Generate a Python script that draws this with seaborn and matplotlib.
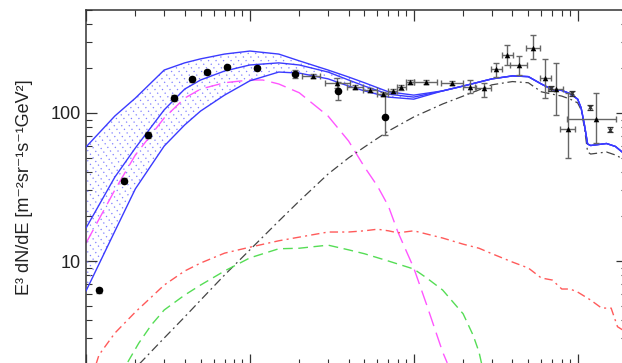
import numpy as np
import matplotlib
matplotlib.use("Agg")
import matplotlib.pyplot as plt
from matplotlib.ticker import LogLocator, NullFormatter, FixedLocator, FixedFormatter
import seaborn as sns

# Energies in GeV, fluxes as E^3 dN/dE

# blue band (upper / central / lower model curves), low-energy part
band_E = [1, 1.5, 2, 3, 4, 5, 7, 10, 15, 20, 30, 40, 50, 70, 100]
band_hi = [58.9, 95.4, 126, 195, 218, 232, 250, 262, 250, 225, 195, 175, 160, 139, 132]
band_mid = [16.7, 36.9, 58.0, 105, 145, 167, 192, 211, 218, 211, 189, 167, 152, 134, 128]
band_lo = [6.27, 15.9, 30.7, 59.8, 83.0, 103, 132, 165, 189, 186, 170, 152, 141, 128, 124]

# high-energy part where the three blue curves coincide
tail_E = [150, 200, 300, 400, 500, 600, 700, 800, 900, 1000, 1050, 1100, 1150, 1200, 1500, 1700, 2000]
tail_F = [141, 152, 170, 178, 176, 157, 144, 142, 135, 124, 108, 83.0, 61.7, 60.3, 62.2, 59.4, 51.2]

# magenta long dashed component
mag_E = [1, 1.5, 2, 3, 4, 5, 7, 10, 12, 15, 20, 30, 40, 50, 60, 70, 80, 100, 120, 150, 160]
mag_F = [13.2, 30.2, 52.0, 92.5, 126, 145, 160, 167, 167, 157, 137, 95.3, 64.7, 43.2, 32.1, 23.5, 15.7, 8.97, 5.04, 2.43, 2.05]

# black dash-dot component
blk_E = [2, 3, 4, 5, 7, 10, 15, 20, 30, 40, 50, 70, 100, 150, 200, 300, 400, 500,
         600, 700, 800, 900, 1000, 1050, 1100, 1150, 1200, 1500, 1700, 2000]
blk_F = [1.89, 3.02, 4.19, 5.44, 8.04, 11.9, 18.6, 25.4, 38.7, 49.7, 58.9, 75.5, 94.0, 115, 130, 155, 163, 160,
         139, 134, 130, 124, 117, 105, 79.2, 54.5, 52.8, 54.5, 52.0, 47.4]

# red dash-dot component
red_E = [1.15, 1.2, 1.5, 2, 3, 4, 5, 7, 10, 15, 20, 30, 40, 50, 60, 70, 80, 100, 150, 200, 250, 300,
         400, 500, 600, 700, 800, 900, 1000, 1200, 1400, 1600, 1750, 1900]
red_F = [2.0, 2.32, 3.26, 4.52, 6.88, 8.56, 9.69, 11.3, 12.4, 13.7, 14.5, 15.7, 15.7, 16.0, 16.4, 16.0, 15.5, 16.0,
         14.3, 13.0, 12.2, 11.2, 9.84, 8.97, 7.68, 7.44, 6.47, 6.47, 6.17, 5.45, 4.81, 4.81, 3.6, 3.4]

# green dashed component
grn_E = [1.8, 2.1, 2.5, 3, 4, 5, 7, 10, 15, 20, 30, 40, 50, 70, 100, 120, 150, 200, 230, 250, 260]
grn_F = [2.08, 2.79, 3.69, 4.67, 5.89, 6.88, 8.56, 10.5, 12.1, 12.2, 12.8, 11.9, 11.2, 10.0, 8.83, 7.68, 6.37, 4.4, 3.16, 2.43, 2.0]

# circles
circ_E = [1.2, 1.7, 2.4, 3.43, 4.45, 5.47, 7.21, 11.0, 18.9, 34.5, 66.6]
circ_F = [6.34, 34.9, 71.0, 126, 169, 190, 204, 201, 183, 141.5, 94.4]
circ_dn = [0.25, 1.5, 3, 6, 6, 6, 6, 7, 11, 19, 23]
circ_up = [0.25, 1.5, 3, 6, 6, 6, 6, 7, 11, 21, 42]

# triangles with energy bins
tri_E = [24.2, 34.1, 43.7, 53.9, 65.0, 74.2, 84.1, 94.5, 118, 170, 220, 268, 319, 373, 437, 534, 635, 738, 878, 1300]
tri_F = [177, 159, 150.5, 143, 134, 141.5, 149, 163, 163, 160, 150.5, 147, 197, 247, 210, 276, 172, 145, 78, 90.7]
tri_Emin = [20.7, 28.7, 38.9, 48.9, 59.5, 69.4, 78.8, 89.4, 101, 147.5, 199, 241, 298, 343, 385, 487, 587, 656, 777, 857]
tri_Emax = [26.7, 40.7, 49.1, 59.5, 69.4, 78.8, 89.4, 101, 138, 200, 235, 298, 343, 403, 491, 587, 691, 814, 959, 1722]
tri_Fmin = [172, 148, 146, 139, 130, 137, 144, 158, 158, 155, 136.5, 128, 175, 211, 181, 232, 126, 97, 49.7, 62.7]
tri_Fmax = [182, 172, 155, 147, 139, 146, 154, 168, 168, 165, 167, 160, 218, 288, 243, 337, 232, 219, 136.5, 136.5]

# hourglass symbols
hg_E = [691, 928, 1183, 1567]
hg_F = [147, 136, 109, 77]

ylabel = "E³ dN/dE [m⁻²sr⁻¹s⁻¹GeV²]"

sns.set_theme(style="ticks")
plt.rcParams["font.family"] = ["Liberation Sans", "DejaVu Sans"]

fig = plt.figure(figsize=(6.22, 3.63), dpi=100)
ax = fig.add_axes([86 / 622, -1.5 / 363, 541 / 622, 355 / 363])
ax.set_xscale("log")
ax.set_yscale("log")
ax.set_xlim(1, 2000)
ax.set_ylim(2, 500)

# dotted hatch inside the band
band = ax.fill_between(band_E, band_lo, band_hi, facecolor="none", edgecolor="none")
clip = band.get_paths()[0]
slope = 1.35 * 541 / 355
for u0 in np.arange(-0.8, 0.8, 7.5 / 541):
    ln, = ax.plot([u0, u0 + 1 / slope], [1, 0], transform=ax.transAxes,
                  color="#7d7dff", lw=0.9, ls=(0, (1, 2.6)), zorder=1)
    ln.set_clip_path(clip, ax.transData)

blue = "#3b3bff"
for f in [band_hi, band_mid, band_lo]:
    sns.lineplot(x=band_E + tail_E, y=f + tail_F, ax=ax, color=blue, lw=1.0, sort=False, zorder=3)

sns.lineplot(x=mag_E, y=mag_F, ax=ax, color="#ff55ff", lw=1.0, ls=(0, (11, 5)), sort=False, zorder=2)
sns.lineplot(x=blk_E, y=blk_F, ax=ax, color="#444444", lw=0.9, ls=(0, (7, 3, 1.5, 3)), sort=False, zorder=2)
sns.lineplot(x=red_E, y=red_F, ax=ax, color="#ff5a5a", lw=1.0, ls=(0, (6, 3, 1.5, 3)), sort=False, zorder=2)
sns.lineplot(x=grn_E, y=grn_F, ax=ax, color="#55dd55", lw=1.0, ls=(0, (7, 4)), sort=False, zorder=2)

# data points
ax.errorbar(circ_E, circ_F, yerr=[circ_dn, circ_up], fmt="none", ecolor="#666666",
            elinewidth=1.0, capsize=2.5, zorder=4)
sns.scatterplot(x=circ_E, y=circ_F, ax=ax, color="black", s=30, marker="o", linewidth=0, zorder=5)

tri_E_a = np.array(tri_E)
tri_F_a = np.array(tri_F)
xerr = [tri_E_a - np.array(tri_Emin), np.array(tri_Emax) - tri_E_a]
yerr = [tri_F_a - np.array(tri_Fmin), np.array(tri_Fmax) - tri_F_a]
ax.errorbar(tri_E, tri_F, xerr=xerr, yerr=yerr, fmt="none", ecolor="#666666",
            elinewidth=1.0, capsize=2.5, zorder=4)
sns.scatterplot(x=tri_E, y=tri_F, ax=ax, color="black", s=16, marker="^", linewidth=0, zorder=5)

hg_F_a = np.array(hg_F)
ax.errorbar(hg_E, hg_F, yerr=[hg_F_a * 0.04, hg_F_a * 0.04], fmt="x", color="#333333",
            ms=3.5, mew=0.9, elinewidth=0.8, capsize=2.5, zorder=5)

# axes styling
for s in ax.spines.values():
    s.set_color("#333333")
    s.set_linewidth(1.1)
ax.tick_params(which="both", direction="in", top=True, right=True, colors="#333333",
               labelbottom=False, labelsize=13)
ax.tick_params(which="major", length=8, width=0.9)
ax.tick_params(which="minor", length=4.5, width=0.8)
ax.xaxis.set_major_locator(LogLocator(base=10))
ax.xaxis.set_minor_locator(LogLocator(base=10, subs=np.arange(2, 10)))
ax.xaxis.set_minor_formatter(NullFormatter())
ax.yaxis.set_major_locator(FixedLocator([10, 100]))
ax.yaxis.set_major_formatter(FixedFormatter(["10", "100"]))
ax.yaxis.set_minor_locator(LogLocator(base=10, subs=np.arange(2, 10)))
ax.yaxis.set_minor_formatter(NullFormatter())
for t in ax.get_yticklabels():
    t.set_color("#222222")

ax.set_ylabel(ylabel, fontsize=13, color="#222222")
ax.yaxis.set_label_coords(-0.098, 0.5)
ax.grid(False)

fig.savefig("out.png", dpi=100)
